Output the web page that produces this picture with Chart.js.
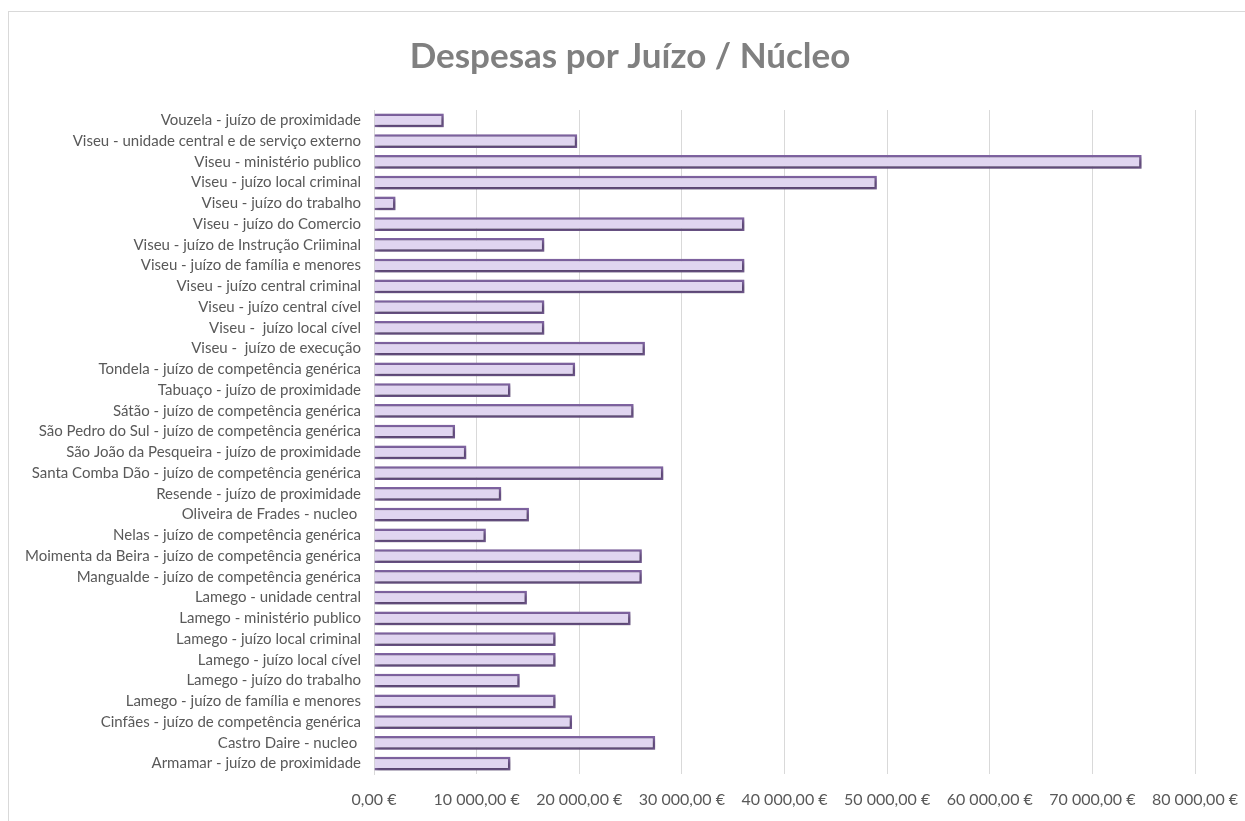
<!DOCTYPE html>
<html>
<head>
<meta charset="utf-8">
<script src="https://cdn.jsdelivr.net/npm/chart.js@4.4.1/dist/chart.umd.min.js"></script>
<style>
  html, body { margin: 0; padding: 0; background: #fff; }
  canvas { display: block; }
</style>
</head>
<body>
<canvas id="chart" width="1245" height="821"></canvas>
<script>
// Data (top to bottom as shown on the chart)
const categories = [
    'Vouzela - juízo de proximidade',
    'Viseu - unidade central e de serviço externo',
    'Viseu - ministério publico',
    'Viseu - juízo local criminal',
    'Viseu - juízo do trabalho',
    'Viseu - juízo do Comercio',
    'Viseu - juízo de Instrução Criiminal',
    'Viseu - juízo de família e menores',
    'Viseu - juízo central criminal',
    'Viseu - juízo central cível',
    'Viseu -  juízo local cível',
    'Viseu -  juízo de execução',
    'Tondela - juízo de competência genérica',
    'Tabuaço - juízo de proximidade',
    'Sátão - juízo de competência genérica',
    'São Pedro do Sul - juízo de competência genérica',
    'São João da Pesqueira - juízo de proximidade',
    'Santa Comba Dão - juízo de competência genérica',
    'Resende - juízo de proximidade',
    'Oliveira de Frades - nucleo ',
    'Nelas - juízo de competência genérica',
    'Moimenta da Beira - juízo de competência genérica',
    'Mangualde - juízo de competência genérica',
    'Lamego - unidade central',
    'Lamego - ministério publico',
    'Lamego - juízo local criminal',
    'Lamego - juízo local cível',
    'Lamego - juízo do trabalho',
    'Lamego - juízo de família e menores',
    'Cinfães - juízo de competência genérica',
    'Castro Daire - nucleo ',
    'Armamar - juízo de proximidade'
];

const expenses = [
    6800, 19800, 74800, 49000, 2100, 36100, 16600, 36100, 36100, 16600, 16600,
    26400, 19600, 13300, 25300, 7900, 9000, 28200, 12400, 15100, 10900, 26100,
    26100, 14900, 25000, 17700, 17700, 14200, 17700, 19300, 27400, 13300
];

const axisMin = 0;
const axisMax = 80000;
const axisStep = 10000;

const chartTitle = 'Despesas por Juízo / Núcleo';

function formatEuro(value) {
    const parts = value.toFixed(2).split('.');
    const intPart = parts[0].replace(/\B(?=(\d{3})+(?!\d))/g, ' ');
    return intPart + ',' + parts[1] + ' €';
}

const fontFamily = 'Lato, "Open Sans", sans-serif';

// White background, thin frame and the title
const framePlugin = {
    id: 'frame',
    beforeDraw(chart) {
        const ctx = chart.ctx;
        ctx.save();
        ctx.fillStyle = '#ffffff';
        ctx.fillRect(0, 0, chart.width, chart.height);
        ctx.strokeStyle = '#d9d9d9';
        ctx.lineWidth = 1;
        ctx.strokeRect(8.5, 11.5, chart.width + 20, chart.height + 20);

        ctx.fillStyle = '#808080';
        ctx.font = 'bold 35px ' + fontFamily;
        ctx.textAlign = 'center';
        ctx.textBaseline = 'middle';
        ctx.fillText(chartTitle, 630, 57);
        ctx.restore();
    }
};

// Soft drop shadow under the bars
const shadowPlugin = {
    id: 'barShadow',
    beforeDatasetsDraw(chart) {
        const ctx = chart.ctx;
        ctx.save();
        ctx.shadowColor = 'rgba(0, 0, 0, 0.4)';
        ctx.shadowBlur = 4;
        ctx.shadowOffsetX = 2;
        ctx.shadowOffsetY = 2;
    },
    afterDatasetsDraw(chart) {
        chart.ctx.restore();
    }
};

new Chart(document.getElementById('chart'), {
    type: 'bar',
    data: {
        labels: categories,
        datasets: [{
            label: 'Despesas',
            data: expenses,
            backgroundColor: '#e0d5f0',
            borderColor: '#8064a2',
            borderWidth: 2.5,
            barPercentage: 0.66,
            categoryPercentage: 1.0
        }]
    },
    options: {
        indexAxis: 'y',
        responsive: false,
        animation: false,
        devicePixelRatio: 1,
        layout: {
            padding: { top: 110, right: 50, bottom: 0, left: 0 }
        },
        scales: {
            x: {
                min: axisMin,
                max: axisMax,
                ticks: {
                    stepSize: axisStep,
                    color: '#595959',
                    padding: 16,
                    maxRotation: 0,
                    font: { family: fontFamily, size: 16 },
                    callback: function(value) { return formatEuro(value); }
                },
                grid: {
                    color: '#d9d9d9',
                    lineWidth: 1,
                    drawTicks: false
                },
                border: { display: false },
                afterFit: function(scale) {
                    scale.height = 47;
                    scale.paddingLeft = 0;
                    scale.paddingRight = 0;
                }
            },
            y: {
                ticks: {
                    color: '#595959',
                    padding: 13,
                    autoSkip: false,
                    font: { family: fontFamily, size: 15 }
                },
                grid: { display: false, drawTicks: false },
                border: { display: true, color: '#d9d9d9', width: 1 },
                afterFit: function(scale) {
                    scale.width = 374;
                    scale.paddingTop = 0;
                    scale.paddingBottom = 0;
                }
            }
        },
        plugins: {
            legend: { display: false },
            tooltip: { enabled: false },
            title: { display: false }
        }
    },
    plugins: [framePlugin, shadowPlugin]
});
</script>
</body>
</html>
